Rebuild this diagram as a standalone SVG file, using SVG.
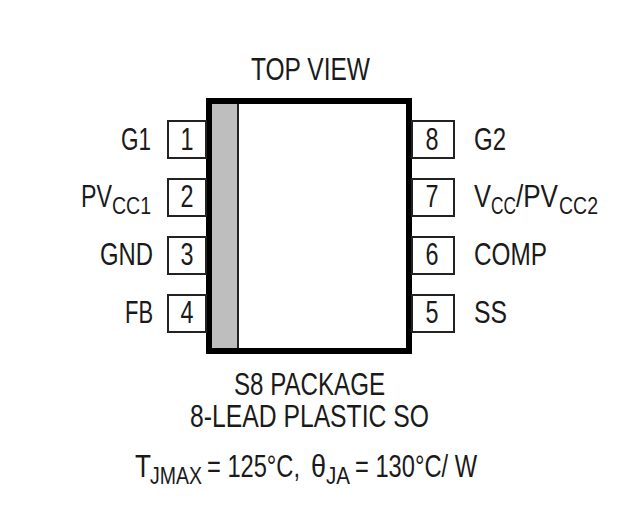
<svg xmlns="http://www.w3.org/2000/svg" width="635" height="532" viewBox="0 0 635 532">
<style>
text{font-family:"Liberation Sans",Arial,sans-serif;font-size:31px;fill:#1a1a1a}
.s{font-size:23px}
.pin{fill:#fff;stroke:#222;stroke-width:2}
</style>
<rect width="635" height="532" fill="#fff"/>
<g id="connectors"></g>
<g id="package">
<rect x="212" y="104" width="26" height="244" fill="#bebebe"/>
<line x1="238" y1="104" x2="238" y2="348" stroke="#222" stroke-width="2"/>
<rect x="209" y="101" width="200" height="250" fill="none" stroke="#000" stroke-width="6"/>
</g>
<g id="pin1"><rect class="pin" x="168" y="121" width="38" height="37"/><text x="187" y="150" text-anchor="middle" textLength="13" lengthAdjust="spacingAndGlyphs">1</text><text x="121" y="150" textLength="30" lengthAdjust="spacingAndGlyphs">G1</text></g>
<g id="pin2"><rect class="pin" x="168" y="179" width="38" height="37"/><text x="187" y="207" text-anchor="middle" textLength="13" lengthAdjust="spacingAndGlyphs">2</text><text y="207"><tspan x="81" textLength="31" lengthAdjust="spacingAndGlyphs">PV</tspan><tspan class="s" x="112" dy="7" textLength="39" lengthAdjust="spacingAndGlyphs">CC1</tspan></text></g>
<g id="pin3"><rect class="pin" x="168" y="237" width="38" height="37"/><text x="187" y="265" text-anchor="middle" textLength="13" lengthAdjust="spacingAndGlyphs">3</text><text x="100" y="265" textLength="53" lengthAdjust="spacingAndGlyphs">GND</text></g>
<g id="pin4"><rect class="pin" x="168" y="295" width="38" height="37"/><text x="187" y="323" text-anchor="middle" textLength="13" lengthAdjust="spacingAndGlyphs">4</text><text x="125" y="323" textLength="28" lengthAdjust="spacingAndGlyphs">FB</text></g>
<g id="pin8"><rect class="pin" x="412" y="121" width="42" height="37"/><text x="432" y="150" text-anchor="middle" textLength="13" lengthAdjust="spacingAndGlyphs">8</text><text x="474" y="150" textLength="32" lengthAdjust="spacingAndGlyphs">G2</text></g>
<g id="pin7"><rect class="pin" x="412" y="179" width="42" height="37"/><text x="432" y="207" text-anchor="middle" textLength="13" lengthAdjust="spacingAndGlyphs">7</text><text y="207"><tspan x="474" textLength="17" lengthAdjust="spacingAndGlyphs">V</tspan><tspan class="s" x="491" dy="7" textLength="25" lengthAdjust="spacingAndGlyphs">CC</tspan><tspan x="516" dy="-7" textLength="42" lengthAdjust="spacingAndGlyphs">/PV</tspan><tspan class="s" x="559" dy="7" textLength="39" lengthAdjust="spacingAndGlyphs">CC2</tspan></text></g>
<g id="pin6"><rect class="pin" x="412" y="237" width="42" height="37"/><text x="432" y="265" text-anchor="middle" textLength="13" lengthAdjust="spacingAndGlyphs">6</text><text x="474" y="265" textLength="73" lengthAdjust="spacingAndGlyphs">COMP</text></g>
<g id="pin5"><rect class="pin" x="412" y="295" width="42" height="37"/><text x="432" y="323" text-anchor="middle" textLength="13" lengthAdjust="spacingAndGlyphs">5</text><text x="474" y="323" textLength="33" lengthAdjust="spacingAndGlyphs">SS</text></g>
<g id="labels">
<text x="251" y="80" textLength="119" lengthAdjust="spacingAndGlyphs">TOP VIEW</text>
<text x="234" y="395" textLength="151" lengthAdjust="spacingAndGlyphs">S8 PACKAGE</text>
<text x="190" y="427" textLength="239" lengthAdjust="spacingAndGlyphs">8-LEAD PLASTIC SO</text>
<text y="477"><tspan x="135" textLength="16" lengthAdjust="spacingAndGlyphs">T</tspan><tspan class="s" x="150" dy="7" textLength="52" lengthAdjust="spacingAndGlyphs">JMAX</tspan><tspan x="207" dy="-7" textLength="93" lengthAdjust="spacingAndGlyphs">= 125°C,</tspan><tspan x="311" textLength="15" lengthAdjust="spacingAndGlyphs">θ</tspan><tspan class="s" x="326" dy="7" textLength="24" lengthAdjust="spacingAndGlyphs">JA</tspan><tspan x="355" dy="-7" textLength="122" lengthAdjust="spacingAndGlyphs">= 130°C/ W</tspan></text>
</g>
</svg>
